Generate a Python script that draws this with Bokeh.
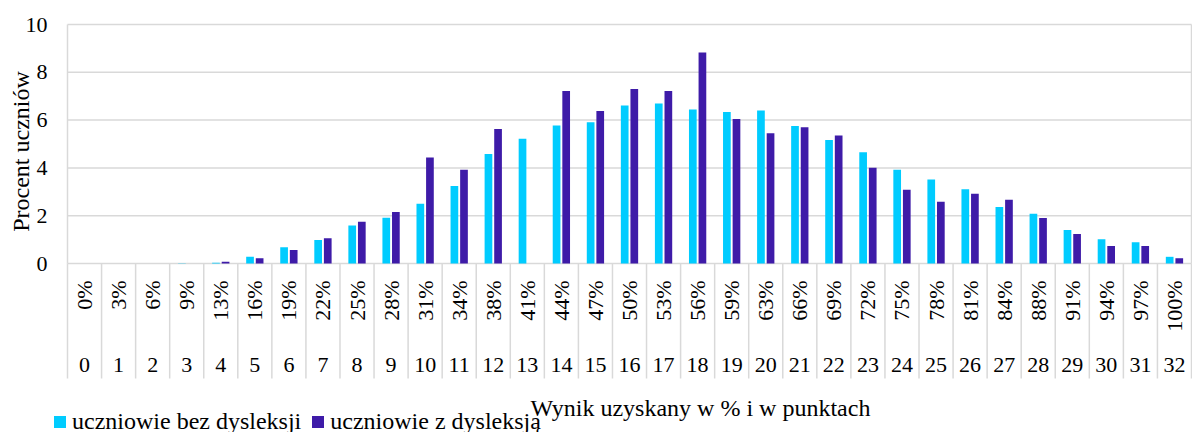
import numpy as np
from bokeh.plotting import figure
from bokeh.models import Range1d, Label, Legend, LegendItem, ColumnDataSource
from bokeh.transform import dodge
from bokeh.core.properties import value
from bokeh.embed import file_html
from bokeh.resources import INLINE

# ---------------- data ----------------
points = list(range(33))
pct_labels = ["0%", "3%", "6%", "9%", "13%", "16%", "19%", "22%", "25%", "28%", "31%",
              "34%", "38%", "41%", "44%", "47%", "50%", "53%", "56%", "59%", "63%", "66%",
              "69%", "72%", "75%", "78%", "81%", "84%", "88%", "91%", "94%", "97%", "100%"]
bez_dysleksji = [0, 0, 0, 0.01, 0.03, 0.28, 0.68, 0.98, 1.59, 1.91, 2.50, 3.24, 4.58, 5.22,
                 5.77, 5.91, 6.61, 6.69, 6.44, 6.34, 6.40, 5.75, 5.17, 4.65, 3.92, 3.51,
                 3.11, 2.36, 2.08, 1.40, 1.01, 0.89, 0.28]
z_dysleksja = [0, 0, 0, 0, 0.07, 0.22, 0.57, 1.06, 1.75, 2.16, 4.44, 3.92, 5.63, 0,
               7.22, 6.38, 7.30, 7.22, 8.83, 6.05, 5.45, 5.70, 5.36, 4.01, 3.09, 2.58,
               2.92, 2.67, 1.90, 1.23, 0.73, 0.73, 0.22]
y_ticks = [0, 2, 4, 6, 8, 10]
series_names = ["uczniowie bez dysleksji", "uczniowie z dysleksją"]
x_title = "Wynik uzyskany w % i w punktach"
y_title = "Procent uczniów"

# ---------------- layout constants (pixels) ----------------
W, H = 1192, 432
PLOT_L = 67                 # left edge of bar area
CW = 1124 / 33              # px per category
UNIT = 23.9                 # px per y unit
ZERO_Y = 263                # pixel row of value 0
FONT = "Liberation Serif"
GRID = "#D9D9D9"
CYAN = "#00CCFF"
PURPLE = "#3E1BA8"

def px_x(px):
    return -0.5 + (px - PLOT_L) / CW

def px_y(py):
    return (ZERO_Y - py) / UNIT

p = figure(width=W, height=H, output_backend="svg", toolbar_location=None,
           x_range=Range1d(px_x(0), px_x(W)), y_range=Range1d(px_y(H), px_y(0)),
           x_axis_location=None, y_axis_location=None,
           min_border=0, min_border_left=0, min_border_right=0,
           min_border_top=0, min_border_bottom=0)
p.outline_line_color = None
p.background_fill_color = "white"
p.border_fill_color = "white"
p.xgrid.visible = False
p.ygrid.visible = False

n = len(points)
x_lo, x_hi = points[0] - 0.5, points[-1] + 0.5
y_top = max(y_ticks)

# horizontal gridlines
p.segment(x0=[x_lo] * len(y_ticks), y0=y_ticks, x1=[x_hi] * len(y_ticks), y1=y_ticks,
          line_color=GRID, line_width=1.5)
# plot-area side borders
p.segment(x0=[x_lo, x_hi], y0=[0, 0], x1=[x_lo, x_hi], y1=[y_top, y_top],
          line_color=GRID, line_width=1.5)
# category table separators
bounds = [i - 0.5 for i in range(n + 1)]
tb = px_y(378)
p.segment(x0=bounds, y0=[tb] * len(bounds), x1=bounds, y1=[0] * len(bounds),
          line_color=GRID, line_width=1.5)

# bars
src = ColumnDataSource(dict(x=points, a=bez_dysleksji, b=z_dysleksja))
BW = 7.7 / CW
OFF = 4.8 / CW
r1 = p.vbar(x=dodge("x", -OFF, range=p.x_range), top="a", width=BW, source=src,
            fill_color=CYAN, line_color=None)
r2 = p.vbar(x=dodge("x", OFF, range=p.x_range), top="b", width=BW, source=src,
            fill_color=PURPLE, line_color=None)

# y tick labels
p.text(x=[px_x(47)] * len(y_ticks), y=y_ticks, text=[str(t) for t in y_ticks],
       text_align="right", text_baseline="middle", text_font=value(FONT),
       text_font_size="22px", text_color="black")

# category table text
p.text(x=points, y=[px_y(280)] * n, text=pct_labels, angle=np.pi / 2,
       text_align="right", text_baseline="middle", text_font=value(FONT),
       text_font_size="22px", text_color="black")
p.text(x=points, y=[px_y(364)] * n, text=[str(v) for v in points],
       text_align="center", text_baseline="middle", text_font=value(FONT),
       text_font_size="22px", text_color="black")

# titles
p.add_layout(Label(x=px_x(700), y=px_y(407), text=x_title,
                   text_align="center", text_baseline="alphabetic", text_font=FONT,
                   text_font_size="24px", text_color="black"))
p.add_layout(Label(x=px_x(20), y=px_y(151), text=y_title,
                   angle=np.pi / 2, text_align="center", text_baseline="middle",
                   text_font=FONT, text_font_size="24px", text_color="black"))

# legend
legend = Legend(items=[LegendItem(label=series_names[0], renderers=[r1]),
                       LegendItem(label=series_names[1], renderers=[r2])],
                orientation="horizontal", location=(52, -3),
                label_text_font=FONT, label_text_font_size="24px",
                label_text_color="black", glyph_width=15, glyph_height=15,
                label_standoff=5, spacing=9, padding=0, margin=0,
                border_line_color=None, background_fill_alpha=0)
p.add_layout(legend)

open("out.html", "w").write(file_html(p, INLINE))
